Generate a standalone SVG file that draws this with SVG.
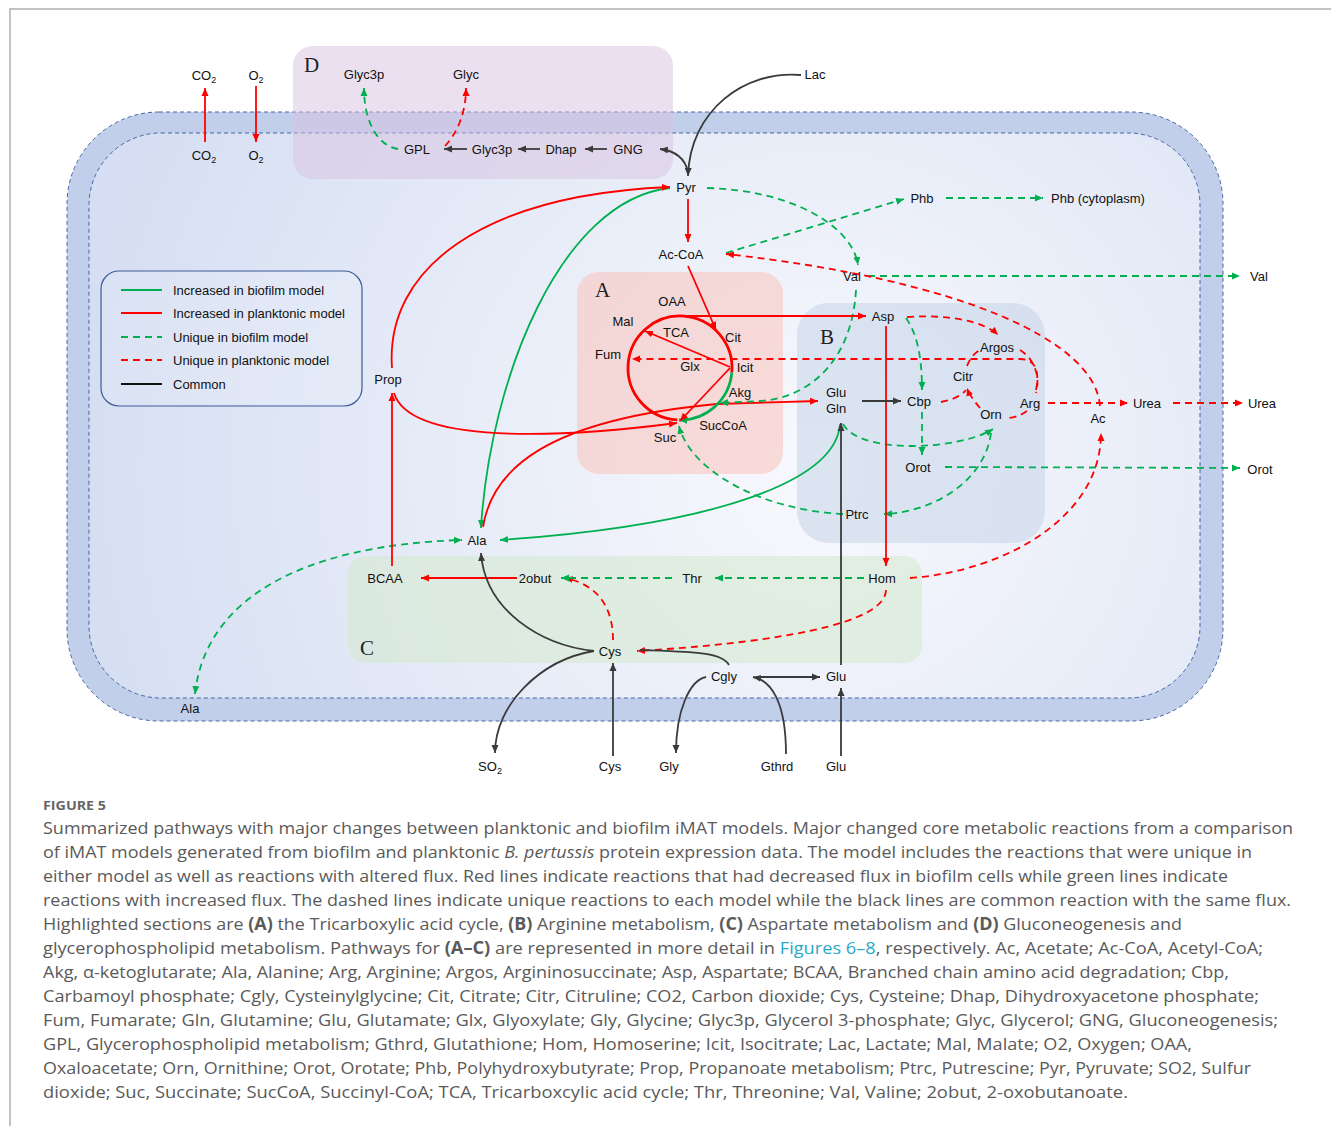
<svg xmlns="http://www.w3.org/2000/svg" width="1331" height="1126" viewBox="0 0 1331 1126">
<defs>
<radialGradient id="cellg" gradientUnits="userSpaceOnUse" cx="820" cy="470" r="760">
<stop offset="0" stop-color="#f8f9fd"/>
<stop offset="1" stop-color="#d5def2"/>
</radialGradient>
<marker id="mr" markerUnits="userSpaceOnUse" markerWidth="9" markerHeight="8" refX="8" refY="4" orient="auto-start-reverse"><path d="M0,0.5 L8,4 L0,7.5 z" fill="#f00"/></marker>
<marker id="mg" markerUnits="userSpaceOnUse" markerWidth="9" markerHeight="8" refX="8" refY="4" orient="auto-start-reverse"><path d="M0,0.5 L8,4 L0,7.5 z" fill="#00b050"/></marker>
<marker id="mk" markerUnits="userSpaceOnUse" markerWidth="9" markerHeight="8" refX="8" refY="4" orient="auto-start-reverse"><path d="M0,0.5 L8,4 L0,7.5 z" fill="#3a3a3a"/></marker>
<style>
.t{font-family:"Liberation Sans",Arial,sans-serif;font-size:13px;fill:#111;text-anchor:middle}
.lg{font-family:"Liberation Sans",Arial,sans-serif;font-size:13px;fill:#111}
.L{font-family:"Liberation Serif","Times New Roman",serif;font-size:21px;fill:#222}
.r{stroke:#f00;fill:none;stroke-width:1.8}
.g{stroke:#00b050;fill:none;stroke-width:1.8}
.k{stroke:#3a3a3a;fill:none;stroke-width:1.8}
.d{stroke-dasharray:7 5}
.cap{font-family:"Open Sans","Liberation Sans",sans-serif;font-size:17px;fill:#5a5a5a}
.mem{fill:none;stroke:#4766a6;stroke-width:1;stroke-dasharray:4 3}
</style>
</defs>
<rect width="1331" height="1126" fill="#fff"/>
<path d="M10,1126 L10,9 L1331,9" fill="none" stroke="#b0b0b0" stroke-width="1.5"/>

<g id="cell">
<rect x="67" y="112" width="1156" height="609" rx="92" fill="#c1cfeb"/>
<rect x="67" y="112" width="1156" height="609" rx="92" class="mem"/>
<rect x="89" y="133" width="1111" height="565" rx="72" fill="url(#cellg)"/>
<rect x="89" y="133" width="1111" height="565" rx="72" class="mem"/>
</g>

<g id="regions">
<rect id="regD" x="293" y="46" width="380" height="133" rx="20" fill="#d8c2df" fill-opacity="0.5"/>
<rect id="regA" x="577" y="272" width="206" height="202" rx="22" fill="#fac2bc" fill-opacity="0.55"/>
<rect id="regB" x="797" y="303" width="248" height="240" rx="32" fill="#c5d4e8" fill-opacity="0.55"/>
<rect id="regC" x="348" y="556" width="574" height="107" rx="18" fill="#d6ead0" fill-opacity="0.6"/>
<text class="L" x="304" y="72">D</text>
<text class="L" x="595" y="297">A</text>
<text class="L" x="820" y="344">B</text>
<text class="L" x="360" y="655">C</text>
</g>

<g id="legend">
<rect x="101" y="271" width="261" height="135" rx="18" fill="#ffffff" fill-opacity="0.12" stroke="#3b5a9a" stroke-width="1.2"/>
<line x1="121" y1="290" x2="162" y2="290" class="g"/>
<line x1="121" y1="313" x2="162" y2="313" class="r"/>
<line x1="121" y1="337" x2="162" y2="337" class="g d"/>
<line x1="121" y1="360" x2="162" y2="360" class="r d"/>
<line x1="121" y1="384" x2="162" y2="384" stroke="#111" stroke-width="1.8"/>
<text class="lg" x="173" y="295">Increased in biofilm model</text>
<text class="lg" x="173" y="318">Increased in planktonic model</text>
<text class="lg" x="173" y="342">Unique in biofilm model</text>
<text class="lg" x="173" y="365">Unique in planktonic model</text>
<text class="lg" x="173" y="389">Common</text>
</g>

<g id="connectors">
<path class="r" d="M205,142 L205,88" marker-end="url(#mr)"/>
<path class="r" d="M256,86 L256,142" marker-end="url(#mr)"/>
<path class="g d" d="M398,149 C378,146 364,122 364,88" marker-end="url(#mg)"/>
<path class="r d" d="M445,146 C458,132 466,112 466,88" marker-end="url(#mr)"/>
<path class="k" d="M467,149 L444,149" marker-end="url(#mk)"/>
<path class="k" d="M540,149 L518,149" marker-end="url(#mk)"/>
<path class="k" d="M607,149 L585,149" marker-end="url(#mk)"/>
<path class="k" d="M801,75 C745,70 690,110 688,176" marker-end="url(#mk)"/>
<path class="k" d="M688,172 C685,158 676,151 660,149" marker-end="url(#mk)"/>
<path class="r" d="M688,199 L688,242" marker-end="url(#mr)"/>
<path class="g" d="M670,188 C560,200 490,380 481,528" marker-end="url(#mg)"/>
<path class="r" d="M392,368 C385,270 480,195 670,187" marker-end="url(#mr)"/>
<path class="r" d="M394,393 C410,445 560,438 677,423" marker-end="url(#mr)"/>
<path class="r" d="M483,527 C492,470 545,420 717,404 L818,401" marker-end="url(#mr)"/>
<path class="g" d="M840,424 C836,480 720,525 500,540" marker-end="url(#mg)"/>
<path class="g d" d="M707,188 C790,190 852,225 858,265" marker-end="url(#mg)"/>
<path class="g d" d="M856,290 C852,360 810,398 760,401 L720,403" marker-end="url(#mg)"/>
<path class="g d" d="M843,514 C760,510 690,470 679,426" marker-end="url(#mg)"/>
<path class="g d" d="M843,424 C860,455 960,450 993,429" marker-end="url(#mg)"/>
<path class="g d" d="M991,433 C985,480 935,512 884,514" marker-end="url(#mg)"/>
<path class="g d" d="M906,318 C918,335 922,360 922,390" marker-end="url(#mg)"/>
<path class="g d" d="M922,412 L922,455" marker-end="url(#mg)"/>
<path class="g d" d="M945,467 L1240,468" marker-end="url(#mg)"/>
<path class="g d" d="M868,276 L1240,276" marker-end="url(#mg)"/>
<path class="g d" d="M726,253 L904,199" marker-end="url(#mg)"/>
<path class="g d" d="M946,198 L1043,198" marker-end="url(#mg)"/>
<path class="g d" d="M195,694 C205,600 300,545 462,540" marker-start="url(#mg)" marker-end="url(#mg)"/>
<path class="r d" d="M1100,406 C1095,340 960,280 726,254" marker-end="url(#mr)"/>
<path class="r d" d="M910,578 C1000,572 1101,520 1101,433" marker-end="url(#mr)"/>
<path class="r d" d="M1048,403 L1128,403" marker-end="url(#mr)"/>
<path class="r d" d="M1173,403 L1243,403" marker-end="url(#mr)"/>
<path class="r d" d="M907,317 C950,314 985,322 998,335" marker-end="url(#mr)"/>
<path class="r d" d="M1020,350 C1036,360 1040,378 1036,393"/>
<path class="r d" d="M1027,411 C1020,416 1013,418 1007,418"/>
<path class="r d" d="M980,408 C975,402 970,396 967,388" marker-end="url(#mr)"/>
<path class="r d" d="M967,366 C970,358 975,352 982,349"/>
<path class="r d" d="M941,402 C952,400 961,396 966,390"/>
<path class="r d" d="M1036,390 C1040,370 1035,359 1020,359 L632,359" marker-end="url(#mr)"/>
<path class="r d" d="M886,590 C885,632 720,646 637,651" marker-end="url(#mr)"/>
<path class="r d" d="M613,640 C613,610 600,585 565,578" marker-end="url(#mr)"/>
<path class="r" d="M676,316 L866,316" marker-end="url(#mr)"/>
<path class="r" d="M688,266 L716,330" marker-end="url(#mr)"/>
<path class="r" d="M886,326 L886,566" marker-end="url(#mr)"/>
<path class="r" d="M517,578 L421,578" marker-end="url(#mr)"/>
<path class="r" d="M392,566 L392,393" marker-end="url(#mr)"/>
<path d="M677.3,419.9 A52,52 0 1 1 731.8,372.5" fill="none" stroke="#f00" stroke-width="2.8"/>
<path d="M731.8,372.5 A52,52 0 0 1 679,420" fill="none" stroke="#00b050" stroke-width="2.8" marker-end="url(#mg)"/>
<path class="r" d="M730,367 L645,331" marker-end="url(#mr)"/>
<path class="r" d="M730,368 L680,421" marker-end="url(#mr)"/>
<path class="k" d="M862,401 L901,401" stroke="#111" marker-end="url(#mk)"/>
<path class="k" d="M841,665 L841,423" marker-end="url(#mk)"/>
<path class="k" d="M841,756 L841,688" marker-end="url(#mk)"/>
<path class="k" d="M613,756 L613,663" marker-end="url(#mk)"/>
<path class="k" d="M594,651 C540,660 495,705 495,753" marker-end="url(#mk)"/>
<path class="k" d="M594,651 C540,645 485,610 481,553" marker-end="url(#mk)"/>
<path class="k" d="M729,665 C722,652 695,652 640,650"/>
<path class="k" d="M706,677 C690,680 676,710 676,753" marker-end="url(#mk)"/>
<path class="k" d="M786,754 C786,700 770,680 753,677" marker-end="url(#mk)"/>
<path class="k" d="M756,677 L820,677" marker-end="url(#mk)"/>
<path class="g d" d="M864,578 L715,578" marker-end="url(#mg)"/>
<path class="g d" d="M672,578 L561,578" marker-end="url(#mg)"/>
</g>

<g id="n-co2-out"><text class="t" x="204" y="80">CO<tspan font-size="9" dy="3">2</tspan></text></g>
<g id="n-co2-in"><text class="t" x="204" y="160">CO<tspan font-size="9" dy="3">2</tspan></text></g>
<g id="n-o2-out"><text class="t" x="256" y="80">O<tspan font-size="9" dy="3">2</tspan></text></g>
<g id="n-o2-in"><text class="t" x="256" y="160">O<tspan font-size="9" dy="3">2</tspan></text></g>
<g id="n-glyc3p-out"><text class="t" x="364" y="79">Glyc3p</text></g>
<g id="n-glyc"><text class="t" x="466" y="79">Glyc</text></g>
<g id="n-gpl"><text class="t" x="417" y="154">GPL</text></g>
<g id="n-glyc3p"><text class="t" x="492" y="154">Glyc3p</text></g>
<g id="n-dhap"><text class="t" x="561" y="154">Dhap</text></g>
<g id="n-gng"><text class="t" x="628" y="154">GNG</text></g>
<g id="n-lac"><text class="t" x="815" y="79">Lac</text></g>
<g id="n-pyr"><text class="t" x="686" y="192">Pyr</text></g>
<g id="n-phb"><text class="t" x="922" y="203">Phb</text></g>
<g id="n-phbc"><text class="t" x="1098" y="203">Phb (cytoplasm)</text></g>
<g id="n-accoa"><text class="t" x="681" y="259">Ac-CoA</text></g>
<g id="n-val"><text class="t" x="852" y="281">Val</text></g>
<g id="n-val-out"><text class="t" x="1259" y="281">Val</text></g>
<g id="n-oaa"><text class="t" x="672" y="306">OAA</text></g>
<g id="n-mal"><text class="t" x="623" y="326">Mal</text></g>
<g id="n-tca"><text class="t" x="676" y="337">TCA</text></g>
<g id="n-cit"><text class="t" x="733" y="342">Cit</text></g>
<g id="n-fum"><text class="t" x="608" y="359">Fum</text></g>
<g id="n-glx"><text class="t" x="690" y="371">Glx</text></g>
<g id="n-icit"><text class="t" x="745" y="372">Icit</text></g>
<g id="n-akg"><text class="t" x="740" y="397">Akg</text></g>
<g id="n-succoa"><text class="t" x="723" y="430">SucCoA</text></g>
<g id="n-suc"><text class="t" x="665" y="442">Suc</text></g>
<g id="n-asp"><text class="t" x="883" y="321">Asp</text></g>
<g id="n-argos"><text class="t" x="997" y="352">Argos</text></g>
<g id="n-citr"><text class="t" x="963" y="381">Citr</text></g>
<g id="n-glugln"><text class="t" x="836" y="397">Glu</text><text class="t" x="836" y="413">Gln</text></g>
<g id="n-cbp"><text class="t" x="919" y="406">Cbp</text></g>
<g id="n-arg"><text class="t" x="1030" y="408">Arg</text></g>
<g id="n-orn"><text class="t" x="991" y="419">Orn</text></g>
<g id="n-urea"><text class="t" x="1147" y="408">Urea</text></g>
<g id="n-urea-out"><text class="t" x="1262" y="408">Urea</text></g>
<g id="n-ac"><text class="t" x="1098" y="423">Ac</text></g>
<g id="n-orot"><text class="t" x="918" y="472">Orot</text></g>
<g id="n-orot-out"><text class="t" x="1260" y="474">Orot</text></g>
<g id="n-ptrc"><text class="t" x="857" y="519">Ptrc</text></g>
<g id="n-prop"><text class="t" x="388" y="384">Prop</text></g>
<g id="n-ala"><text class="t" x="477" y="545">Ala</text></g>
<g id="n-bcaa"><text class="t" x="385" y="583">BCAA</text></g>
<g id="n-2obut"><text class="t" x="535" y="583">2obut</text></g>
<g id="n-thr"><text class="t" x="692" y="583">Thr</text></g>
<g id="n-hom"><text class="t" x="882" y="583">Hom</text></g>
<g id="n-cys"><text class="t" x="610" y="656">Cys</text></g>
<g id="n-cgly"><text class="t" x="724" y="681">Cgly</text></g>
<g id="n-glu"><text class="t" x="836" y="681">Glu</text></g>
<g id="n-ala-out"><text class="t" x="190" y="713">Ala</text></g>
<g id="n-so2"><text class="t" x="490" y="771">SO<tspan font-size="9" dy="3">2</tspan></text></g>
<g id="n-cys-out"><text class="t" x="610" y="771">Cys</text></g>
<g id="n-gly"><text class="t" x="669" y="771">Gly</text></g>
<g id="n-gthrd"><text class="t" x="777" y="771">Gthrd</text></g>
<g id="n-glu-out"><text class="t" x="836" y="771">Glu</text></g>

<g id="caption">
<text x="43" y="810" font-family="'Open Sans','Liberation Sans',sans-serif" font-size="13" font-weight="bold" fill="#666" textLength="63" lengthAdjust="spacingAndGlyphs">FIGURE 5</text>
<text class="cap" x="43" y="834" textLength="1250" lengthAdjust="spacingAndGlyphs">Summarized pathways with major changes between planktonic and biofilm iMAT models. Major changed core metabolic reactions from a comparison</text>
<text class="cap" x="43" y="858" textLength="1209" lengthAdjust="spacingAndGlyphs">of iMAT models generated from biofilm and planktonic <tspan font-style="italic">B. pertussis</tspan> protein expression data. The model includes the reactions that were unique in</text>
<text class="cap" x="43" y="882" textLength="1185" lengthAdjust="spacingAndGlyphs">either model as well as reactions with altered flux. Red lines indicate reactions that had decreased flux in biofilm cells while green lines indicate</text>
<text class="cap" x="43" y="906" textLength="1248" lengthAdjust="spacingAndGlyphs">reactions with increased flux. The dashed lines indicate unique reactions to each model while the black lines are common reaction with the same flux.</text>
<text class="cap" x="43" y="930" textLength="1139" lengthAdjust="spacingAndGlyphs">Highlighted sections are <tspan font-weight="bold">(A)</tspan> the Tricarboxylic acid cycle, <tspan font-weight="bold">(B)</tspan> Arginine metabolism, <tspan font-weight="bold">(C)</tspan> Aspartate metabolism and <tspan font-weight="bold">(D)</tspan> Gluconeogenesis and</text>
<text class="cap" x="43" y="954" textLength="1220" lengthAdjust="spacingAndGlyphs">glycerophospholipid metabolism. Pathways for <tspan font-weight="bold">(A–C)</tspan> are represented in more detail in <tspan fill="#2aa8c7">Figures 6–8</tspan>, respectively. Ac, Acetate; Ac-CoA, Acetyl-CoA;</text>
<text class="cap" x="43" y="978" textLength="1186" lengthAdjust="spacingAndGlyphs">Akg, α-ketoglutarate; Ala, Alanine; Arg, Arginine; Argos, Argininosuccinate; Asp, Aspartate; BCAA, Branched chain amino acid degradation; Cbp,</text>
<text class="cap" x="43" y="1002" textLength="1216" lengthAdjust="spacingAndGlyphs">Carbamoyl phosphate; Cgly, Cysteinylglycine; Cit, Citrate; Citr, Citruline; CO2, Carbon dioxide; Cys, Cysteine; Dhap, Dihydroxyacetone phosphate;</text>
<text class="cap" x="43" y="1026" textLength="1235" lengthAdjust="spacingAndGlyphs">Fum, Fumarate; Gln, Glutamine; Glu, Glutamate; Glx, Glyoxylate; Gly, Glycine; Glyc3p, Glycerol 3-phosphate; Glyc, Glycerol; GNG, Gluconeogenesis;</text>
<text class="cap" x="43" y="1050" textLength="1149" lengthAdjust="spacingAndGlyphs">GPL, Glycerophospholipid metabolism; Gthrd, Glutathione; Hom, Homoserine; Icit, Isocitrate; Lac, Lactate; Mal, Malate; O2, Oxygen; OAA,</text>
<text class="cap" x="43" y="1074" textLength="1208" lengthAdjust="spacingAndGlyphs">Oxaloacetate; Orn, Ornithine; Orot, Orotate; Phb, Polyhydroxybutyrate; Prop, Propanoate metabolism; Ptrc, Putrescine; Pyr, Pyruvate; SO2, Sulfur</text>
<text class="cap" x="43" y="1098" textLength="1085" lengthAdjust="spacingAndGlyphs">dioxide; Suc, Succinate; SucCoA, Succinyl-CoA; TCA, Tricarboxcylic acid cycle; Thr, Threonine; Val, Valine; 2obut, 2-oxobutanoate.</text>
</g>
</svg>
